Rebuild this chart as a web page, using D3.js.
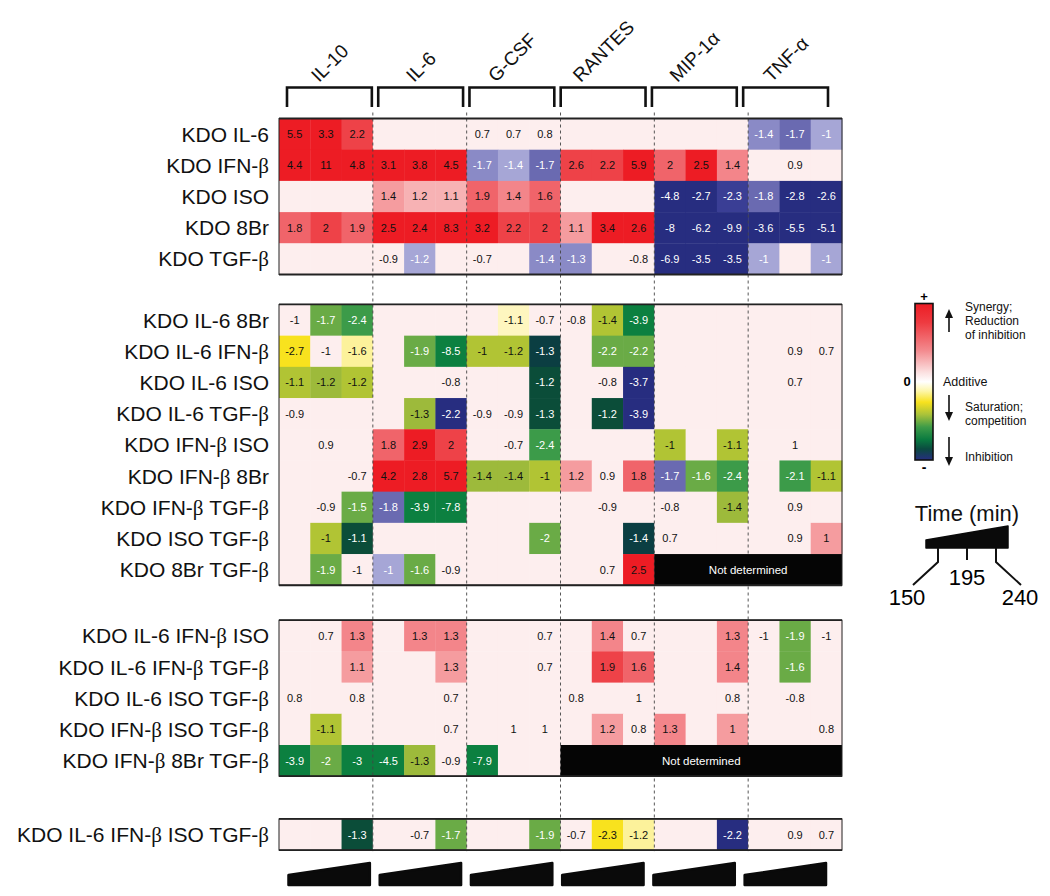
<!DOCTYPE html>
<html><head><meta charset="utf-8">
<script src="https://cdn.jsdelivr.net/npm/d3@7"></script>
<style>
body{margin:0;background:#fff;}
svg{display:block;font-family:"Liberation Sans",Arial,Helvetica,sans-serif;}
</style>
</head><body>
<svg id="chart" width="1050" height="896"></svg>
<script>
const _ = null;
// ---------- DATA ----------
const cytokines = ["IL-10", "IL-6", "G-CSF", "RANTES", "MIP-1α", "TNF-α"];
const timePoints = [150, 195, 240];

// Block 1: single treatments
const block1Labels = ["KDO IL-6", "KDO IFN-β", "KDO ISO", "KDO 8Br", "KDO TGF-β"];
const block1Values = [
  [5.5,3.3,2.2, _,_,_, 0.7,0.7,0.8, _,_,_, _,_,_, -1.4,-1.7,-1],
  [4.4,11,4.8, 3.1,3.8,4.5, -1.7,-1.4,-1.7, 2.6,2.2,5.9, 2,2.5,1.4, _,0.9,_],
  [_,_,_, 1.4,1.2,1.1, 1.9,1.4,1.6, _,_,_, -4.8,-2.7,-2.3, -1.8,-2.8,-2.6],
  [1.8,2,1.9, 2.5,2.4,8.3, 3.2,2.2,2, 1.1,3.4,2.6, -8,-6.2,-9.9, -3.6,-5.5,-5.1],
  [_,_,_, -0.9,-1.2,_, -0.7,_,-1.4, -1.3,_,-0.8, -6.9,-3.5,-3.5, -1,_,-1]
];
// classification codes per cell (0 additive, a-f synergy, q/p/Y/y/x/g/h/G/T/U saturation, l/m/M/n/N inhibition, - not determined)
const block1Classes = [
  "ffe000000000000mMl",
  "ffffffmlMeefdfc000",
  "000baadcd000NNnMNN",
  "dedffffeebffNNNNNN",
  "0000l000mm00NNNl0l"
];

// Block 2: pairs
const block2Labels = ["KDO IL-6 8Br", "KDO IL-6 IFN-β", "KDO IL-6 ISO", "KDO IL-6 TGF-β", "KDO IFN-β ISO",
  "KDO IFN-β 8Br", "KDO IFN-β TGF-β", "KDO ISO TGF-β", "KDO 8Br TGF-β"];
const block2Values = [
  [-1,-1.7,-2.4, _,_,_, _,-1.1,-0.7, -0.8,-1.4,-3.9, _,_,_, _,_,_],
  [-2.7,-1,-1.6, _,-1.9,-8.5, -1,-1.2,-1.3, _,-2.2,-2.2, _,_,_, _,0.9,0.7],
  [-1.1,-1.2,-1.2, _,_,-0.8, _,_,-1.2, _,-0.8,-3.7, _,_,_, _,0.7,_],
  [-0.9,_,_, _,-1.3,-2.2, -0.9,-0.9,-1.3, _,-1.2,-3.9, _,_,_, _,_,_],
  [_,0.9,_, 1.8,2.9,2, _,-0.7,-2.4, _,_,_, -1,_,-1.1, _,1,_],
  [_,_,-0.7, 4.2,2.8,5.7, -1.4,-1.4,-1, 1.2,0.9,1.8, -1.7,-1.6,-2.4, _,-2.1,-1.1],
  [_,-0.9,-1.5, -1.8,-3.9,-7.8, _,_,_, _,-0.9,_, -0.8,_,-1.4, _,0.9,_],
  [_,-1,-1.1, _,_,_, _,_,-2, _,_,-1.4, 0.7,_,_, _,0.9,1],
  [_,-1.9,-1, -1,-1.6,-0.9, _,_,_, _,0.7,2.5, _,_,_, _,_,_]
];
const block2Classes = [
  "0gh0000q00yG000000",
  "Y0p0gGyyU0gg000000",
  "yxy00000T00N000000",
  "0000xN00T0TN000000",
  "000dfe00h000y0y000",
  "000fffxxyb0dMgh0hy",
  "00gMGG00000000x000",
  "0yT00000g00U00000b",
  "0g0lg000000f------"
];

// Block 3: triples
const block3Labels = ["KDO IL-6 IFN-β ISO", "KDO IL-6 IFN-β TGF-β", "KDO IL-6 ISO TGF-β", "KDO IFN-β ISO TGF-β", "KDO IFN-β 8Br TGF-β"];
const block3Values = [
  [_,0.7,1.3, _,1.3,1.3, _,_,0.7, _,1.4,0.7, _,_,1.3, -1,-1.9,-1],
  [_,_,1.1, _,_,1.3, _,_,0.7, _,1.9,1.6, _,_,1.4, _,-1.6,_],
  [0.8,_,0.8, _,_,0.7, _,_,_, 0.8,_,1, _,_,0.8, _,-0.8,_],
  [_,-1.1,_, _,_,0.7, _,1,1, _,1.2,0.8, 1.3,_,1, _,_,0.8],
  [-3.9,-2,-3, -4.5,-1.3,-0.9, -7.9,_,_, _,_,_, _,_,_, _,_,_]
];
const block3Classes = [
  "00c0cc0000c000c0g0",
  "00b00b0000ed00c0g0",
  "000000000000000000",
  "0y00000000b0c0b000",
  "GgGGx0G00---------"
];

// Block 4: quadruple
const block4Labels = ["KDO IL-6 IFN-β ISO TGF-β"];
const block4Values = [
  [_,_,-1.3, _,-0.7,-1.7, _,_,-1.9, -0.7,-2.3,-1.2, _,_,-2.2, _,0.9,0.7]
];
const block4Classes = ["00T00g00g0Yp00N000"];

const legendTexts = {
  up: ["Synergy;", "Reduction", "of inhibition"],
  mid: ["Additive"],
  down1: ["Saturation;", "competition"],
  down2: ["Inhibition"]
};

// ---------- SCALES ----------
const blocks = [
  {labels: block1Labels, values: block1Values, classes: block1Classes, gap: 0},
  {labels: block2Labels, values: block2Values, classes: block2Classes, gap: 0.96},
  {labels: block3Labels, values: block3Values, classes: block3Classes, gap: 1.12},
  {labels: block4Labels, values: block4Values, classes: block4Classes, gap: 1.37}
];
const classCodes = ["0","a","b","c","d","e","f","q","p","Y","y","x","g","h","G","T","U","l","m","M","n","N","-"];
const classColors = ["#fdeeee","#f7b2b4","#f59c9f","#f3858a","#f0646a","#ee4248","#ed1c24",
  "#fef6bf","#fcf29b","#f8e21e","#b1c434","#9dba3b","#6aab46","#3c9b49","#0c8040","#0b4d39","#0b3e42",
  "#a6a6d6","#8a8ac6","#6a6ab1","#3a3e95","#272d80","#050505"];
const color = d3.scaleOrdinal(classCodes, classColors);
const darkClasses = new Set(["g","h","G","T","U","l","m","M","n","N","-"]);

const nCols = cytokines.length * timePoints.length;
const x = d3.scaleBand().domain(d3.range(nCols)).range([279, 842]);
const groupX = d3.scaleBand().domain(cytokines).range([279, 842]);
const headerX = d3.scaleBand().domain(cytokines).range([287, 828]).paddingInner(0.07);
const rowUnit = d3.scaleLinear().domain([0, 1]).range([118.5, 149.7]);
const rowH = rowUnit(1) - rowUnit(0);

let acc = 0;
blocks.forEach(b => { acc += b.gap; b.start = acc; acc += b.labels.length; });

const svg = d3.select("#chart");

// ---------- CELLS ----------
const gCells = svg.append("g");
const gDash = svg.append("g");
const gND = svg.append("g");
const gText = svg.append("g");
const gBorder = svg.append("g");

blocks.forEach(b => {
  b.labels.forEach((lab, r) => {
    const y0 = rowUnit(b.start + r);
    const cells = d3.range(nCols).map(c => ({c, v: b.values[r][c], k: b.classes[r][c]}));
    gCells.selectAll(null).data(cells.filter(d => d.k !== "-")).join("rect")
      .attr("x", d => x(d.c)).attr("y", y0)
      .attr("width", x.bandwidth() + 0.4).attr("height", rowH + 0.4)
      .attr("fill", d => color(d.k));
    gText.selectAll(null).data(cells.filter(d => d.v !== null && d.k !== "-")).join("text")
      .attr("x", d => x(d.c) + x.bandwidth() / 2).attr("y", y0 + rowH / 2)
      .attr("dy", "0.36em").attr("text-anchor", "middle")
      .attr("font-size", 11).attr("fill", d => darkClasses.has(d.k) ? "#fff" : "#111")
      .text(d => d.v);
    // not determined runs
    let c = 0;
    while (c < nCols) {
      if (b.classes[r][c] === "-") {
        let e = c; while (e + 1 < nCols && b.classes[r][e + 1] === "-") e++;
        const xa = x(c), xb = x(e) + x.bandwidth();
        gND.append("rect").attr("x", xa).attr("y", y0).attr("width", xb - xa).attr("height", rowH + 0.4).attr("fill", color("-"));
        gND.append("text").attr("x", (xa + xb) / 2).attr("y", y0 + rowH / 2).attr("dy", "0.36em")
          .attr("text-anchor", "middle").attr("font-size", 11.5).attr("fill", "#fff").text("Not determined");
        c = e + 1;
      } else c++;
    }
    // row label
    const t = svg.append("text").attr("x", 269).attr("y", y0 + rowH / 2).attr("dy", "0.36em")
      .attr("text-anchor", "end").attr("font-size", 21).attr("fill", "#111");
    lab.split("β").forEach((part, i, arr) => {
      t.append("tspan").text(part);
      if (i < arr.length - 1) t.append("tspan").attr("font-family", "'Liberation Serif','DejaVu Serif',serif").text("β");
    });
  });
  const yTop = rowUnit(b.start), yBot = rowUnit(b.start + b.labels.length);
  gBorder.append("rect").attr("x", 279).attr("y", yTop).attr("width", 842 - 279).attr("height", yBot - yTop)
    .attr("fill", "none").attr("stroke", "#222").attr("stroke-width", 1);
  gBorder.append("line").attr("x1", 279).attr("x2", 842).attr("y1", yTop).attr("y2", yTop).attr("stroke", "#222").attr("stroke-width", 1.8);
  gBorder.append("line").attr("x1", 279).attr("x2", 842).attr("y1", yBot).attr("y2", yBot).attr("stroke", "#222").attr("stroke-width", 1.8);
});

// dashed group separators
const lastBlock = blocks[blocks.length - 1];
gDash.selectAll("line").data(cytokines.slice(1)).join("line")
  .attr("x1", d => groupX(d)).attr("x2", d => groupX(d))
  .attr("y1", rowUnit(0) - 6).attr("y2", rowUnit(lastBlock.start + lastBlock.labels.length) + 1)
  .attr("stroke", "#444").attr("stroke-width", 0.9).attr("stroke-dasharray", "3,3");

// ---------- HEADER ----------
const ang = 45;
cytokines.forEach(name => {
  const cx = headerX(name) + headerX.bandwidth() / 2;
  const x0 = headerX(name), x1 = x0 + headerX.bandwidth();
  svg.append("path").attr("d", `M${x0},107V87.5H${x1}V107`).attr("fill", "none")
    .attr("stroke", "#111").attr("stroke-width", 2.6);
  const t = svg.append("text").attr("font-size", 19).attr("fill", "#111").text(name);
  const L = t.node().getComputedTextLength();
  const sx = cx + 5 - (L / 2) * Math.cos(ang * Math.PI / 180);
  const sy = 83;
  t.attr("transform", `translate(${sx},${sy}) rotate(${-ang})`);
});

// bottom wedges
cytokines.forEach(name => {
  const x0 = headerX(name) + 1.5, x1 = headerX(name) + headerX.bandwidth() - 2;
  const yb = 885;
  svg.append("path").attr("d", `M${x0},${yb}L${x0},${yb - 10}L${x1},${yb - 22}L${x1},${yb}Z`)
    .attr("fill", "#0a0a0a").attr("stroke", "#0a0a0a").attr("stroke-width", 2.5).attr("stroke-linejoin", "round");
});

// ---------- LEGEND ----------
const defs = svg.append("defs");
const grad = defs.append("linearGradient").attr("id", "lg").attr("x1", 0).attr("x2", 0).attr("y1", 0).attr("y2", 1);
[[0, "#ed1c24"], [0.12, "#ee3a40"], [0.3, "#f38a8e"], [0.44, "#fbe0e0"], [0.5, "#ffffff"], [0.56, "#fdf6a8"],
 [0.63, "#f8e21e"], [0.71, "#a9c23a"], [0.79, "#3d9b48"], [0.87, "#0a7a40"], [0.93, "#0b4a40"], [1, "#262d80"]]
  .forEach(([o, c]) => grad.append("stop").attr("offset", o).attr("stop-color", c));
const cbX = 915, cbY = 303.5, cbW = 18, cbH = 156.5;
const legY = d3.scaleLinear().domain([1, -1]).range([cbY, cbY + cbH]);
svg.append("rect").attr("x", cbX).attr("y", cbY).attr("width", cbW).attr("height", cbH)
  .attr("fill", "url(#lg)").attr("stroke", "#111").attr("stroke-width", 1.6);
svg.append("text").attr("x", cbX + cbW / 2).attr("y", cbY - 3).attr("text-anchor", "middle").attr("font-size", 13).attr("font-weight", "bold").text("+");
svg.append("text").attr("x", cbX + cbW / 2).attr("y", cbY + cbH + 12).attr("text-anchor", "middle").attr("font-size", 14).attr("font-weight", "bold").text("-");
svg.append("text").attr("x", 907).attr("y", legY(0)).attr("dy", "0.36em").attr("text-anchor", "middle").attr("font-size", 13).attr("font-weight", "bold").text("0");

function legLines(lines, y0) {
  lines.forEach((s, i) => svg.append("text").attr("x", 965).attr("y", y0 + i * 14)
    .attr("font-size", 12).attr("fill", "#111").text(s));
}
legLines(legendTexts.up, 311);
svg.append("text").attr("x", 943).attr("y", legY(0)).attr("dy", "0.36em").attr("font-size", 12.5).attr("fill", "#111").text(legendTexts.mid[0]);
legLines(legendTexts.down1, 411);
legLines(legendTexts.down2, 461);

function arrow(xa, ya, yb) { // from ya to yb (head at yb)
  const dir = yb > ya ? 1 : -1;
  svg.append("line").attr("x1", xa).attr("x2", xa).attr("y1", ya).attr("y2", yb - dir * 7).attr("stroke", "#111").attr("stroke-width", 1.6);
  svg.append("path").attr("d", `M${xa - 4},${yb - dir * 9}L${xa + 4},${yb - dir * 9}L${xa},${yb}Z`).attr("fill", "#111");
}
arrow(949, 332, 309);
arrow(949, 395, 421);
arrow(949, 437, 466);

// time legend
svg.append("text").attr("x", 967).attr("y", 521).attr("text-anchor", "middle").attr("font-size", 22).attr("fill", "#111").text("Time (min)");
const tx = d3.scaleLinear().domain([timePoints[0], timePoints[2]]).range([938, 996]);
svg.append("path").attr("d", "M926,548L926,540L1008,526L1008,548Z").attr("fill", "#0a0a0a").attr("stroke", "#0a0a0a").attr("stroke-width", 1.5).attr("stroke-linejoin", "round");
svg.append("path").attr("d", `M${tx(timePoints[0])},548V562L${tx(timePoints[0]) - 25},585`).attr("fill", "none").attr("stroke", "#111").attr("stroke-width", 2);
svg.append("path").attr("d", `M${tx(timePoints[1])},548V560`).attr("fill", "none").attr("stroke", "#111").attr("stroke-width", 2);
svg.append("path").attr("d", `M${tx(timePoints[2])},548V562L${tx(timePoints[2]) + 25},585`).attr("fill", "none").attr("stroke", "#111").attr("stroke-width", 2);
svg.append("text").attr("x", tx(timePoints[0]) - 31).attr("y", 605).attr("text-anchor", "middle").attr("font-size", 22).text(timePoints[0]);
svg.append("text").attr("x", tx(timePoints[1])).attr("y", 585).attr("text-anchor", "middle").attr("font-size", 22).text(timePoints[1]);
svg.append("text").attr("x", tx(timePoints[2]) + 24).attr("y", 605).attr("text-anchor", "middle").attr("font-size", 22).text(timePoints[2]);
</script>
</body></html>
